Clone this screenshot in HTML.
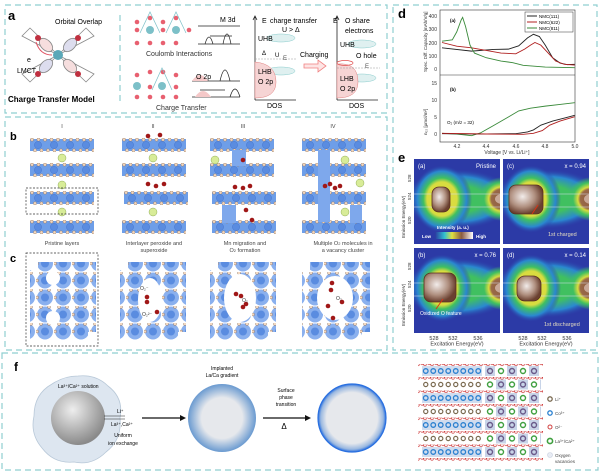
<!DOCTYPE html>
<html><head><meta charset="utf-8">
<style>
html,body{margin:0;padding:0;background:#fff;}
svg{display:block;font-family:"Liberation Sans",sans-serif;}
</style></head>
<body>
<svg width="600" height="473" viewBox="0 0 600 473" xmlns="http://www.w3.org/2000/svg" xmlns:xlink="http://www.w3.org/1999/xlink">
<defs>
<radialGradient id="blob" cx="40%" cy="40%" r="60%">
<stop offset="0" stop-color="#f2ecea"/><stop offset="0.6" stop-color="#b09080"/><stop offset="1" stop-color="#6a4030"/>
</radialGradient>
<radialGradient id="hg" cx="50%" cy="50%" r="50%">
<stop offset="0" stop-color="#e0dc40"/><stop offset="0.5" stop-color="#d8dc40"/><stop offset="0.62" stop-color="#40c060"/><stop offset="0.82" stop-color="#2a88d0"/><stop offset="1" stop-color="#2c3aa6" stop-opacity="0"/>
</radialGradient>
<radialGradient id="bandg" cx="50%" cy="50%" r="50%">
<stop offset="0" stop-color="#40c060"/><stop offset="0.45" stop-color="#40c060"/><stop offset="0.75" stop-color="#2a88d0"/><stop offset="1" stop-color="#2c3aa6" stop-opacity="0"/>
</radialGradient>
<radialGradient id="hgr" cx="50%" cy="50%" r="50%">
<stop offset="0" stop-color="#8a5a40"/><stop offset="0.45" stop-color="#9a6a48"/><stop offset="0.55" stop-color="#d8dc40"/><stop offset="0.75" stop-color="#40c060"/><stop offset="1" stop-color="#40c060" stop-opacity="0"/>
</radialGradient>
<linearGradient id="cbar" x1="0" x2="1"><stop offset="0" stop-color="#2a3aa0"/><stop offset="0.25" stop-color="#30c0d0"/><stop offset="0.45" stop-color="#e0e040"/><stop offset="0.7" stop-color="#8a5a40"/><stop offset="1" stop-color="#ffffff"/></linearGradient>
<radialGradient id="gsph" cx="40%" cy="35%" r="65%"><stop offset="0" stop-color="#eeeeee"/><stop offset="1" stop-color="#8a8a8a"/></radialGradient>
<radialGradient id="grad2" cx="50%" cy="50%" r="50%"><stop offset="0.6" stop-color="#e6e8ec"/><stop offset="1" stop-color="#6a9ad0"/></radialGradient>
<radialGradient id="grad3" cx="50%" cy="50%" r="50%"><stop offset="0.75" stop-color="#e6e8ec"/><stop offset="0.92" stop-color="#9ab8e0"/><stop offset="1" stop-color="#2a70e0"/></radialGradient>
<pattern id="pd" patternUnits="userSpaceOnUse" width="6.5" height="14">
<circle cx="2" cy="1.6" r="1.6" fill="#f2d8c0" stroke="#8a6a50" stroke-width="0.4"/>
<circle cx="5" cy="12.4" r="1.6" fill="#f2d8c0" stroke="#8a6a50" stroke-width="0.4"/>
</pattern>
<pattern id="pb" patternUnits="userSpaceOnUse" width="16" height="14">
<circle cx="8" cy="7" r="3.6" fill="#5a8ce0" stroke="#3a6ac8" stroke-width="0.4"/>
</pattern>
<pattern id="ph" patternUnits="userSpaceOnUse" width="18" height="17">
<circle cx="9" cy="8.5" r="8" fill="#8ab0ee"/>
<circle cx="9" cy="8.5" r="4" fill="#5a8ce0"/>
<circle cx="1" cy="8.5" r="1.5" fill="#f2d8c0" stroke="#8a6a50" stroke-width="0.4"/>
<circle cx="5" cy="1" r="1.5" fill="#f2d8c0" stroke="#8a6a50" stroke-width="0.4"/>
<circle cx="13" cy="1" r="1.5" fill="#f2d8c0" stroke="#8a6a50" stroke-width="0.4"/>
</pattern>
<pattern id="po" patternUnits="userSpaceOnUse" width="7" height="13.5" x="0" y="377">
<circle cx="2" cy="0" r="1.3" fill="none" stroke="#d04040" stroke-width="0.7"/>
<circle cx="5" cy="1" r="1.3" fill="none" stroke="#d04040" stroke-width="0.7"/>
</pattern>
<pattern id="pco" patternUnits="userSpaceOnUse" width="7.5" height="27" x="422" y="366">
<rect x="0" y="0" width="7.5" height="10" fill="#d0dcee"/>
<circle cx="3.75" cy="5" r="2.3" fill="none" stroke="#2a80d0" stroke-width="1.3"/>
<circle cx="3.75" cy="18.5" r="2.1" fill="none" stroke="#7a6a50" stroke-width="1.2"/>
</pattern>
<pattern id="pr" patternUnits="userSpaceOnUse" width="22" height="27" x="485" y="366">
<rect x="0" y="0" width="10" height="10" fill="#c8d4e8"/>
<rect x="11" y="13.5" width="10" height="10" fill="#c8d4e8"/>
<circle cx="5" cy="5" r="2.5" fill="none" stroke="#6a5a8a" stroke-width="1.4"/>
<circle cx="16" cy="5" r="2.5" fill="none" stroke="#40a040" stroke-width="1.4"/>
<circle cx="5" cy="18.5" r="2.5" fill="none" stroke="#40a040" stroke-width="1.4"/>
<circle cx="16" cy="18.5" r="2.5" fill="none" stroke="#6a5a8a" stroke-width="1.4"/>
</pattern>
<g id="ly">
<rect x="0" y="1" width="64" height="12" fill="#6e9ee8"/>
<rect x="0" y="0" width="64" height="14" fill="url(#pd)"/>
<rect x="0" y="0" width="64" height="14" fill="url(#pb)"/>
</g>
<clipPath id="hc"><rect x="0" y="0" width="86" height="85"/></clipPath>
<g id="hm">
<g clip-path="url(#hc)">
<rect x="0" y="0" width="86" height="85" fill="#2c3aa6"/>
<ellipse cx="45" cy="40" rx="56" ry="30" fill="url(#bandg)"/>
<ellipse cx="28" cy="40" rx="30" ry="34" fill="url(#hg)"/>
<ellipse cx="88" cy="40" rx="24" ry="22" fill="url(#hgr)"/>
<ellipse cx="88" cy="40" rx="7" ry="5" fill="#c8a898"/>
<line x1="0" y1="35" x2="86" y2="35" stroke="#d8e0f0" stroke-width="0.6"/>
<line x1="0" y1="48" x2="86" y2="48" stroke="#d8e0f0" stroke-width="0.6"/>
</g>
</g>
</defs>
<g fill="none" stroke="#8fcfd0" stroke-width="1.2" stroke-dasharray="6,4">
<rect x="5" y="5" width="382" height="108"/>
<rect x="5" y="117" width="382" height="233"/>
<rect x="393" y="5" width="204" height="345"/>
<rect x="2" y="353" width="596" height="117"/>
<line x1="120" y1="15" x2="120" y2="105"/>
</g>
<!-- Panel a -->
<text x="8" y="20" font-size="13" font-weight="bold">a</text>
<g stroke="#888" stroke-width="0.8" fill="#f6dede">
<path d="M58,55 L30,28 L22,36 Z" fill="#fff"/><path d="M58,55 L86,28 L94,36 Z" fill="#fff"/>
<path d="M58,55 L30,82 L22,74 Z" fill="#fff"/><path d="M58,55 L86,82 L94,74 Z" fill="#fff"/>
<ellipse cx="46" cy="45" rx="8" ry="5" transform="rotate(45 46 45)"/><ellipse cx="70" cy="45" rx="8" ry="5" transform="rotate(-45 70 45)" fill="#dde"/>
<ellipse cx="46" cy="66" rx="8" ry="5" transform="rotate(-45 46 66)" fill="#dde"/><ellipse cx="70" cy="66" rx="8" ry="5" transform="rotate(45 70 66)"/>
</g>
<circle cx="58" cy="55" r="5" fill="#5aa8b8"/>
<g fill="#c03040"><circle cx="38" cy="38" r="3"/><circle cx="78" cy="38" r="3"/><circle cx="38" cy="74" r="3"/><circle cx="78" cy="74" r="3"/></g>
<path d="M36,42 Q40,55 52,55" stroke="#e05060" fill="none" stroke-width="1"/>
<text x="55" y="24" font-size="7">Orbital Overlap</text>
<text x="27" y="62" font-size="7">e</text><text x="17" y="73" font-size="7">LMCT</text>
<text x="8" y="102" font-size="8" font-weight="bold">Charge Transfer Model</text>
<g fill="#e86070">
<circle cx="137" cy="22" r="2.3"/><circle cx="150" cy="18" r="2.3"/><circle cx="163" cy="22" r="2.3"/><circle cx="176" cy="18" r="2.3"/>
<circle cx="137" cy="30" r="2.3"/><circle cx="163" cy="30" r="2.3"/><circle cx="189" cy="30" r="2.3"/>
<circle cx="137" cy="43" r="2.3"/><circle cx="150" cy="43" r="2.3"/><circle cx="163" cy="43" r="2.3"/><circle cx="176" cy="43" r="2.3"/>
<circle cx="137" cy="75" r="2.3"/><circle cx="150" cy="72" r="2.3"/><circle cx="163" cy="72" r="2.3"/><circle cx="176" cy="75" r="2.3"/>
<circle cx="137" cy="97" r="2.3"/><circle cx="150" cy="97" r="2.3"/><circle cx="163" cy="97" r="2.3"/><circle cx="176" cy="97" r="2.3"/><circle cx="150" cy="87" r="2.3"/><circle cx="176" cy="87" r="2.3"/>
</g>
<g fill="#7cc0c8"><circle cx="150" cy="30" r="4"/><circle cx="176" cy="30" r="4"/><circle cx="137" cy="86" r="4"/><circle cx="162" cy="86" r="4"/></g>
<g stroke="#7cc0c8" fill="none" stroke-width="0.7"><path d="M140,33 L150,12 L160,33 M166,33 L176,12 L186,33"/><path d="M152,90 L162,68 L172,90"/></g>
<g stroke="#222" stroke-width="0.7" fill="none">
<line x1="198" y1="26" x2="240" y2="26"/><line x1="198" y1="44" x2="240" y2="44"/>
<path d="M205,44 q4,-14 8,0 M223,44 q4,-20 8,0 M210,36 h22"/>
<line x1="192" y1="81" x2="240" y2="81"/><line x1="192" y1="97" x2="240" y2="97"/>
<path d="M220,81 q5,-22 10,0 M230,97 q5,-16 10,0 M200,90 h25"/>
</g>
<path d="M192,81 q8,-12 16,0 Z" fill="#f4c8c8"/><path d="M195,97 q8,-12 16,0 Z" fill="#f4c8c8"/>
<text x="220" y="22" font-size="7">M 3d</text><text x="196" y="79" font-size="7">O 2p</text>
<text x="146" y="56" font-size="7" fill="#333">Coulomb Interactions</text>
<text x="156" y="110" font-size="7" fill="#333">Charge Transfer</text>
<g stroke="#222" stroke-width="0.8" fill="none">
<path d="M255,100 V17 M253,20 L255,16 L257,20 M255,100 H296"/>
<path d="M337,100 V17 M335,20 L337,16 L339,20 M337,100 H378"/>
</g>
<ellipse cx="281" cy="38" rx="14" ry="4" fill="#dff0f0" stroke="#8cc" stroke-width="0.5"/>
<ellipse cx="281" cy="71" rx="14" ry="4" fill="#dff0f0" stroke="#8cc" stroke-width="0.5"/>
<path d="M255,62 Q276,64 276,82 Q276,98 255,98 Z" fill="#f6d4d4" stroke="#e08080" stroke-width="0.5"/>
<ellipse cx="362" cy="44" rx="14" ry="4" fill="#dff0f0" stroke="#8cc" stroke-width="0.5"/>
<ellipse cx="362" cy="78" rx="14" ry="4" fill="#dff0f0" stroke="#8cc" stroke-width="0.5"/>
<path d="M337,64 Q358,62 358,82 Q358,98 337,98 Z" fill="#f6d4d4" stroke="#e08080" stroke-width="0.5"/>
<ellipse cx="345" cy="63" rx="8" ry="2.5" fill="none" stroke="#e05050" stroke-width="0.7"/>
<line x1="337" y1="68" x2="380" y2="68" stroke="#999" stroke-dasharray="2,1" stroke-width="0.5"/>
<line x1="255" y1="59" x2="296" y2="59" stroke="#999" stroke-dasharray="2,1" stroke-width="0.5"/>
<text x="262" y="23" font-size="7">E</text><text x="270" y="23" font-size="7">charge transfer</text><text x="282" y="32" font-size="7">U &gt; Δ</text>
<text x="258" y="41" font-size="7">UHB</text><text x="262" y="55" font-size="6">Δ</text><text x="275" y="57" font-size="6">U</text><text x="283" y="60" font-size="6" fill="#555">E</text>
<text x="258" y="74" font-size="7">LHB</text><text x="258" y="84" font-size="7">O 2p</text><text x="267" y="108" font-size="7">DOS</text>
<text x="300" y="57" font-size="7">Charging</text>
<path d="M304,64 h14 v-4 l8,6 l-8,6 v-4 h-14 Z" fill="#fde4e4" stroke="#f08080" stroke-width="0.8"/>
<text x="333" y="23" font-size="7">E</text><text x="345" y="23" font-size="7">O share</text><text x="345" y="33" font-size="7">electrons</text>
<text x="340" y="47" font-size="7">UHB</text><text x="356" y="58" font-size="7">O hole</text><text x="365" y="68" font-size="6" fill="#555">E</text>
<text x="340" y="81" font-size="7">LHB</text><text x="340" y="91" font-size="7">O 2p</text><text x="349" y="108" font-size="7">DOS</text>
<!-- Panel b/c -->
<text x="10" y="140" font-size="11" font-weight="bold">b</text>
<text x="10" y="262" font-size="11" font-weight="bold">c</text>
<g font-size="5.5" fill="#444" text-anchor="middle">
<text x="62" y="128">I</text><text x="153" y="128">II</text><text x="243" y="128">III</text><text x="333" y="128">IV</text>
<text x="62" y="245">Pristine layers</text>
<text x="154" y="245">Interlayer peroxide and</text><text x="154" y="252">superoxide</text>
<text x="245" y="245">Mn migration and</text><text x="245" y="252">O<tspan font-size="4">2</tspan> formation</text>
<text x="343" y="245">Multiple O<tspan font-size="4">2</tspan> molecules in</text><text x="343" y="252">a vacancy cluster</text>
</g>
<use xlink:href="#ly" href="#ly" x="30" y="138"/><use xlink:href="#ly" href="#ly" x="30" y="163"/><use xlink:href="#ly" href="#ly" x="30" y="191"/><use xlink:href="#ly" href="#ly" x="30" y="220"/>
<use xlink:href="#ly" href="#ly" x="122" y="138"/><use xlink:href="#ly" href="#ly" x="122" y="163"/><use xlink:href="#ly" href="#ly" x="124" y="191"/><use xlink:href="#ly" href="#ly" x="122" y="220"/>
<use xlink:href="#ly" href="#ly" x="210" y="138"/><use xlink:href="#ly" href="#ly" x="210" y="163"/><use xlink:href="#ly" href="#ly" x="212" y="191"/><use xlink:href="#ly" href="#ly" x="212" y="220"/>
<use xlink:href="#ly" href="#ly" x="302" y="138"/><use xlink:href="#ly" href="#ly" x="302" y="163"/><use xlink:href="#ly" href="#ly" x="302" y="191"/><use xlink:href="#ly" href="#ly" x="302" y="220"/>
<g fill="#7ea8ec"><rect x="232" y="150" width="14" height="16"/><rect x="222" y="205" width="14" height="18"/><rect x="318" y="150" width="12" height="72"/><rect x="350" y="205" width="12" height="18"/></g>
<g fill="#d8ec98" stroke="#7a9a40" stroke-width="0.4">
<circle cx="62" cy="158" r="4"/><circle cx="62" cy="185" r="4"/><circle cx="62" cy="212" r="4"/><circle cx="153" cy="158" r="4"/><circle cx="153" cy="212" r="4"/><circle cx="215" cy="160" r="4"/><circle cx="345" cy="160" r="4"/><circle cx="360" cy="183" r="4"/><circle cx="345" cy="212" r="4"/>
</g>
<rect x="26" y="188" width="72" height="26" fill="none" stroke="#333" stroke-dasharray="2,1.5" stroke-width="0.7"/>
<!-- c -->
<rect x="30" y="262" width="66" height="78" fill="url(#ph)"/>
<rect x="120" y="262" width="66" height="78" fill="url(#ph)"/>
<rect x="210" y="262" width="66" height="78" fill="url(#ph)"/>
<rect x="302" y="262" width="68" height="78" fill="url(#ph)"/>
<g fill="#fff">
<ellipse cx="53" cy="278" rx="7" ry="7"/><ellipse cx="53" cy="318" rx="7" ry="7"/>
<ellipse cx="150" cy="300" rx="12" ry="22"/>
<ellipse cx="240" cy="298" rx="16" ry="24"/>
<ellipse cx="335" cy="298" rx="18" ry="22"/>
<rect x="30" y="262" width="8" height="8"/><rect x="88" y="332" width="8" height="8"/>
<rect x="120" y="262" width="8" height="8"/><rect x="178" y="332" width="8" height="8"/>
<rect x="210" y="262" width="8" height="8"/><rect x="268" y="332" width="8" height="8"/>
<rect x="302" y="262" width="8" height="8"/><rect x="362" y="332" width="8" height="8"/>
</g>
<rect x="26" y="253" width="72" height="93" fill="none" stroke="#333" stroke-dasharray="2,1.5" stroke-width="0.7"/>
<g fill="#a01818">
<circle cx="148" cy="136" r="2.3"/><circle cx="160" cy="135" r="2.3"/><circle cx="148" cy="184" r="2.3"/><circle cx="156" cy="186" r="2.3"/><circle cx="164" cy="184" r="2.3"/><circle cx="243" cy="160" r="2.3"/><circle cx="235" cy="187" r="2.3"/><circle cx="243" cy="188" r="2.3"/><circle cx="250" cy="186" r="2.3"/><circle cx="246" cy="210" r="2.3"/><circle cx="252" cy="220" r="2.3"/><circle cx="325" cy="186" r="2.3"/><circle cx="330" cy="184" r="2.3"/><circle cx="335" cy="188" r="2.3"/><circle cx="340" cy="186" r="2.3"/>
<circle cx="147" cy="297" r="2.3"/><circle cx="147" cy="302" r="2.3"/><circle cx="157" cy="312" r="2.3"/><circle cx="236" cy="294" r="2.3"/><circle cx="241" cy="296" r="2.3"/><circle cx="243" cy="307" r="2.3"/><circle cx="246" cy="304" r="2.3"/><circle cx="332" cy="283" r="2.3"/><circle cx="331" cy="290" r="2.3"/><circle cx="328" cy="306" r="2.3"/><circle cx="342" cy="302" r="2.3"/><circle cx="333" cy="318" r="2.3"/>
</g>
<g font-size="5" fill="#333"><text x="140" y="290">O₂⁻</text><text x="142" y="316">O₂²⁻</text><text x="242" y="302">O₂</text><text x="336" y="300">O₂</text></g>
<!-- Panel d -->
<text x="398" y="18" font-size="13" font-weight="bold">d</text>
<g stroke="#333" stroke-width="0.6" fill="none"><rect x="440" y="10" width="135" height="132"/><line x1="440" y1="75" x2="575" y2="75"/></g>
<g font-size="5" fill="#333" text-anchor="end">
<text x="437" y="71">0</text><text x="437" y="58">100</text><text x="437" y="45">200</text><text x="437" y="31">300</text><text x="437" y="18">400</text>
<text x="437" y="136">0</text><text x="437" y="119">5</text><text x="437" y="102">10</text><text x="437" y="85">15</text>
</g>
<g font-size="5" fill="#333" text-anchor="middle">
<text x="457" y="148">4.2</text><text x="486" y="148">4.4</text><text x="516" y="148">4.6</text><text x="545" y="148">4.8</text><text x="575" y="148">5.0</text>
<text x="507" y="154">Voltage [V vs. Li/Li⁺]</text>
</g>
<text transform="translate(427,72) rotate(-90)" font-size="4.5" fill="#333">Spec. Diff. Capacity [mAh/V/g]</text>
<text transform="translate(427,135) rotate(-90)" font-size="4.5" fill="#333">n₀₂ [μmol/m²]</text>
<text x="450" y="22" font-size="4.5" font-weight="bold">(a)</text><text x="450" y="91" font-size="4.5" font-weight="bold">(b)</text>
<text x="447" y="124" font-size="4.5">O₂ (m/z = 32)</text>
<rect x="525" y="12" width="48" height="20" fill="#fff" stroke="#333" stroke-width="0.5"/>
<g stroke-width="1" fill="none"><line x1="527" y1="16" x2="537" y2="16" stroke="#222"/><line x1="527" y1="22" x2="537" y2="22" stroke="#b02020"/><line x1="527" y1="28" x2="537" y2="28" stroke="#3a8a3a"/></g>
<g font-size="4.5"><text x="539" y="18">NMC(111)</text><text x="539" y="24">NMC(622)</text><text x="539" y="30">NMC(811)</text></g>
<g transform="translate(442,69) scale(147.5,-0.1325) translate(-4.1,0)" fill="none" stroke-width="0.9">
<polyline vector-effect="non-scaling-stroke" stroke="#222" points="4.1,160 4.3,135 4.45,148 4.55,150 4.62,175 4.68,235 4.72,262 4.76,245 4.8,180 4.85,85 4.9,45 4.95,33 5,35"/>
<polyline vector-effect="non-scaling-stroke" stroke="#b02020" points="4.1,200 4.2,172 4.3,160 4.4,140 4.5,120 4.6,115 4.66,150 4.7,180 4.73,200 4.77,180 4.82,120 4.87,60 4.93,35 5,30"/>
<polyline vector-effect="non-scaling-stroke" stroke="#3a8a3a" points="4.1,210 4.17,220 4.2,280 4.23,370 4.24,390 4.26,320 4.29,180 4.32,120 4.4,85 4.5,60 4.58,48 4.65,28 4.8,15 5,10"/>
</g>
<g transform="translate(442,134) scale(147.5,-3.4) translate(-4.1,0)" fill="none" stroke-width="0.9">
<polyline vector-effect="non-scaling-stroke" stroke="#3a8a3a" points="4.1,0.2 4.2,0 4.3,-0.5 4.36,0.3 4.45,2.5 4.55,5 4.62,6.8 4.7,7.6 4.8,8.2 4.9,8.7 5,9.2"/>
<polyline vector-effect="non-scaling-stroke" stroke="#222" points="4.1,0.1 4.4,0 4.6,0.1 4.68,0.6 4.72,1.2 4.77,2.6 4.85,3.8 4.93,4.7 5,5.5"/>
<polyline vector-effect="non-scaling-stroke" stroke="#b02020" points="4.1,0.2 4.4,0 4.65,-0.1 4.72,0.2 4.78,1 4.83,2.6 4.9,3.8 5,5.1"/>
</g>
<!-- Panel e -->
<text x="398" y="162" font-size="13" font-weight="bold">e</text>
<use xlink:href="#hm" href="#hm" x="414" y="159"/>
<use xlink:href="#hm" href="#hm" x="503" y="159"/>
<use xlink:href="#hm" href="#hm" x="414" y="248"/>
<use xlink:href="#hm" href="#hm" x="503" y="248"/>
<rect x="432" y="187" width="18" height="25" rx="7" fill="url(#blob)" stroke="#5a3020" stroke-width="0.8"/>
<rect x="509" y="185" width="34" height="29" rx="7" fill="url(#blob)" stroke="#5a3020" stroke-width="0.8"/>
<rect x="424" y="273" width="32" height="29" rx="7" fill="url(#blob)" stroke="#5a3020" stroke-width="0.8"/>
<rect x="517" y="276" width="24" height="25" rx="8" fill="url(#blob)" stroke="#5a3020" stroke-width="0.8"/>
<g font-size="6" fill="#fff">
<text x="418" y="168">(a)</text><text x="507" y="168">(c)</text><text x="418" y="257">(b)</text><text x="507" y="257">(d)</text>
<text x="496" y="168" text-anchor="end">Pristine</text><text x="586" y="168" text-anchor="end">x = 0.94</text>
<text x="496" y="257" text-anchor="end">x = 0.76</text><text x="586" y="257" text-anchor="end">x = 0.14</text>
</g>
<rect x="435" y="232" width="38" height="7" fill="url(#cbar)"/>
<text x="431" y="238" font-size="4.5" fill="#fff" text-anchor="end" font-weight="bold">Low</text>
<text x="476" y="238" font-size="4.5" fill="#fff" font-weight="bold">High</text>
<text x="437" y="229" font-size="4.5" fill="#fff" font-weight="bold">Intensity (a. u.)</text>
<text x="548" y="236" font-size="5.5" fill="#e0d8c0">1st charged</text>
<text x="544" y="326" font-size="5.5" fill="#e0d8c0">1st discharged</text>
<text x="420" y="315" font-size="5" fill="#fff">Oxidized O feature</text>
<line x1="436" y1="309" x2="443" y2="299" stroke="#e03010" stroke-width="0.9"/>
<line x1="532" y1="214" x2="538" y2="205" stroke="#e03010" stroke-width="0.9"/>
<g font-size="4.5" fill="#333">
<text transform="translate(405,238) rotate(-90)">Emission Energy(eV)</text>
<text transform="translate(405,326) rotate(-90)">Emission Energy(eV)</text>
<text transform="translate(411,182) rotate(-90)">528</text><text transform="translate(411,200) rotate(-90)">524</text><text transform="translate(411,224) rotate(-90)">520</text>
<text transform="translate(411,270) rotate(-90)">528</text><text transform="translate(411,288) rotate(-90)">524</text><text transform="translate(411,312) rotate(-90)">520</text>
</g>
<g font-size="5.5" fill="#333" text-anchor="middle">
<text x="434" y="340">528</text><text x="453" y="340">532</text><text x="478" y="340">536</text>
<text x="523" y="340">528</text><text x="542" y="340">532</text><text x="567" y="340">536</text>
<text x="457" y="345.5">Excitation Energy(eV)</text><text x="546" y="345.5">Excitation Energy(eV)</text>
</g>
<!-- Panel f -->
<text x="14" y="371" font-size="12" font-weight="bold">f</text>
<path d="M78,376 q18,-2 30,10 q16,12 12,32 q2,22 -14,34 q-14,14 -32,10 q-20,2 -32,-14 q-12,-14 -8,-32 q0,-22 18,-32 q12,-8 26,-8 Z" fill="#dde6f0" stroke="#b8c8d8" stroke-width="0.8"/>
<circle cx="78" cy="418" r="27" fill="url(#gsph)"/>
<text x="58" y="388" font-size="5">La³⁺/Ca²⁺ solution</text>
<g stroke="#222" stroke-width="0.6"><line x1="104" y1="416" x2="125" y2="416"/><line x1="104" y1="419" x2="125" y2="419"/></g>
<text x="117" y="413" font-size="5">Li⁺</text><text x="111" y="426" font-size="5">La³⁺,Ca²⁺</text>
<text x="123" y="437" font-size="5" text-anchor="middle">Uniform</text><text x="123" y="445" font-size="5" text-anchor="middle">ion exchange</text>
<g stroke="#111" stroke-width="1.2"><line x1="142" y1="418" x2="180" y2="418"/><line x1="263" y1="418" x2="305" y2="418"/></g>
<path d="M180,415 l6,3 l-6,3 Z M305,415 l6,3 l-6,3Z" fill="#111"/>
<circle cx="222" cy="418" r="34" fill="url(#grad2)"/>
<text x="222" y="370" font-size="5" text-anchor="middle">Implanted</text><text x="222" y="377" font-size="5" text-anchor="middle">La/Ca gradient</text>
<text x="286" y="392" font-size="5" text-anchor="middle">Surface</text><text x="286" y="399" font-size="5" text-anchor="middle">phase</text><text x="286" y="406" font-size="5" text-anchor="middle">transition</text>
<text x="284" y="429" font-size="8" text-anchor="middle">Δ</text>
<circle cx="352" cy="418" r="34" fill="url(#grad3)" stroke="#2a70e0" stroke-width="1.2"/>
<!-- lattice -->
<rect x="418" y="364" width="125" height="98" fill="url(#po)"/>
<rect x="422" y="366" width="60" height="94" fill="url(#pco)"/>
<rect x="485" y="366" width="56" height="94" fill="url(#pr)"/>
<g font-size="4.5" fill="#444">
<circle cx="550" cy="399" r="2.2" fill="none" stroke="#7a6a50" stroke-width="1.3"/><text x="555" y="401">Li⁺</text>
<circle cx="550" cy="413" r="2.2" fill="none" stroke="#2a80d0" stroke-width="1.3"/><text x="555" y="415">Co³⁺</text>
<circle cx="550" cy="427" r="2" fill="none" stroke="#d04040" stroke-width="1"/><text x="555" y="429">O²⁻</text>
<circle cx="550" cy="441" r="2.6" fill="none" stroke="#40a040" stroke-width="1.6"/><text x="555" y="443">La³⁺/Ca²⁺</text>
<circle cx="550" cy="455" r="2.5" fill="#e8ecf4" stroke="#c8d0e0" stroke-width="0.6"/><text x="555" y="457">Oxygen</text><text x="555" y="463">vacancies</text>
</g>
</svg>
</body></html>
